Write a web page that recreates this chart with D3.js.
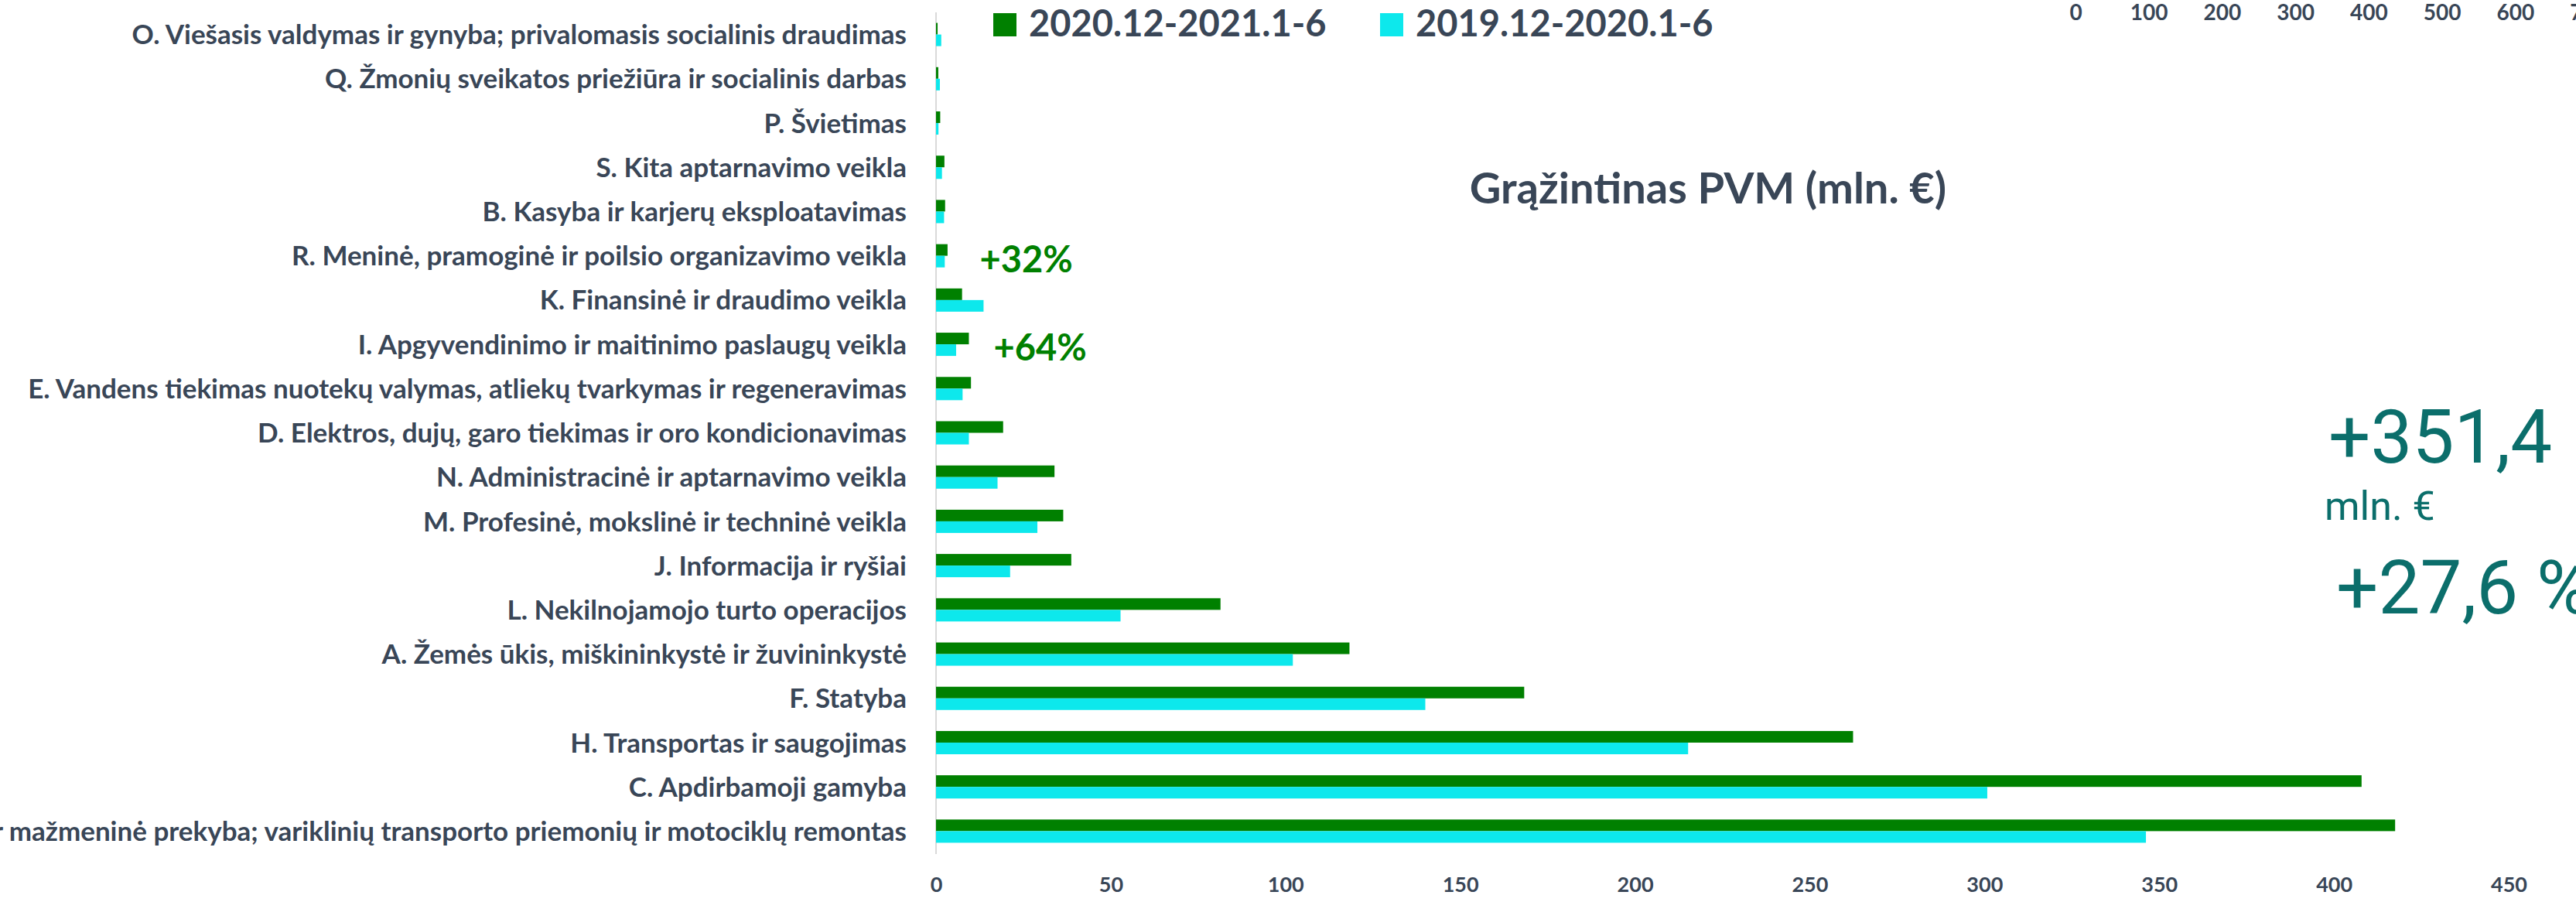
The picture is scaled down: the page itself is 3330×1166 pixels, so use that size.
<html>
<head>
<meta charset="utf-8">
<script src="https://d3js.org/d3.v7.min.js"></script>
<style>
body { margin: 0; background: #ffffff; }
text { font-family: Lato, "Open Sans", sans-serif; }
</style>
</head>
<body>
<svg width="3330" height="1166"></svg>
<script>

// categories, top to bottom
var categories = [
  "O. Viešasis valdymas ir gynyba; privalomasis socialinis draudimas",
  "Q. Žmonių sveikatos priežiūra ir socialinis darbas",
  "P. Švietimas",
  "S. Kita aptarnavimo veikla",
  "B. Kasyba ir karjerų eksploatavimas",
  "R. Meninė, pramoginė ir poilsio organizavimo veikla",
  "K. Finansinė ir draudimo veikla",
  "I. Apgyvendinimo ir maitinimo paslaugų veikla",
  "E. Vandens tiekimas nuotekų valymas, atliekų tvarkymas ir regeneravimas",
  "D. Elektros, dujų, garo tiekimas ir oro kondicionavimas",
  "N. Administracinė ir aptarnavimo veikla",
  "M. Profesinė, mokslinė ir techninė veikla",
  "J. Informacija ir ryšiai",
  "L. Nekilnojamojo turto operacijos",
  "A. Žemės ūkis, miškininkystė ir žuvininkystė",
  "F. Statyba",
  "H. Transportas ir saugojimas",
  "C. Apdirbamoji gamyba",
  "G. Didmeninė ir mažmeninė prekyba; variklinių transporto priemonių ir motociklų remontas"
];

var series = ["2020.12-2021.1-6", "2019.12-2020.1-6"];

// mln. EUR
var values2021 = [0.45, 0.65, 1.2, 2.4, 2.6, 3.3, 7.45, 9.4, 10.0, 19.2, 33.9, 36.4, 38.7, 81.4, 118.3, 168.3, 262.4, 407.9, 417.5];
var values2020 = [1.5, 1.1, 0.7, 1.7, 2.3, 2.5, 13.6, 5.75, 7.6, 9.4, 17.6, 29.0, 21.2, 52.8, 102.1, 140.0, 215.2, 300.8, 346.2];

var xTicks = [0, 50, 100, 150, 200, 250, 300, 350, 400, 450];
var topTicks = [0, 100, 200, 300, 400, 500, 600, 700];

var notes = [
  {cat: "R. Meninė, pramoginė ir poilsio organizavimo veikla", text: "+32%"},
  {cat: "I. Apgyvendinimo ir maitinimo paslaugų veikla", text: "+64%"}
];

var title = "Grąžintinas PVM (mln. €)";
var totalChange = "+351,4";
var totalUnit = "mln. €";
var totalPct = "+27,6 %";

var colors = ["#008000", "#0de8ec"];
var textColor = "#394657";
var teal = "#0b6e6b";

var svg = d3.select("svg");

var xs = d3.scaleLinear().domain([0, 450]).range([1210, 3243]);
var ys = d3.scaleBand().domain(categories).range([16, 1103])
  .paddingInner(0.475).paddingOuter(0.2375);
var ysub = d3.scaleBand().domain(series).range([0, ys.bandwidth()]);

// vertical axis line
svg.append("line")
  .attr("x1", xs(0)).attr("x2", xs(0))
  .attr("y1", 16).attr("y2", 1104)
  .style("stroke", "#d9d9d9").style("stroke-width", 2);

// bars
var rows = categories.map(function(c, i) {
  return {cat: c, vals: [values2021[i], values2020[i]]};
});

var g = svg.append("g");
rows.forEach(function(r) {
  g.selectAll(null).data(series).enter().append("rect")
    .attr("x", xs(0))
    .attr("y", function(s) { return ys(r.cat) + ysub(s); })
    .attr("width", function(s, j) { return xs(r.vals[j]) - xs(0); })
    .attr("height", ysub.bandwidth())
    .style("fill", function(s, j) { return colors[j]; });
});

// category labels
svg.append("g").selectAll("text").data(categories).enter().append("text")
  .attr("x", xs(0) - 38)
  .attr("y", function(d) { return ys(d) + ys.bandwidth() / 2; })
  .attr("dy", "0.36em")
  .style("text-anchor", "end")
  .style("font-size", "35px")
  .style("font-weight", "700")
  .style("fill", textColor)
  .text(function(d) { return d; });

// bottom axis
var xAxis = svg.append("g")
  .attr("transform", "translate(0,1104)")
  .call(d3.axisBottom(xs).tickValues(xTicks).tickSize(0).tickPadding(30));
xAxis.select(".domain").remove();
xAxis.selectAll("text")
  .style("font-family", "Lato, sans-serif")
  .style("font-size", "27px")
  .style("font-weight", "700")
  .style("fill", textColor);

// top axis (cut off on the right)
var xt = d3.scaleLinear().domain([0, 700]).range([2683, 3346]);
var topAxis = svg.append("g")
  .attr("transform", "translate(0,6)")
  .call(d3.axisBottom(xt).tickValues(topTicks).tickSize(0).tickPadding(0));
topAxis.select(".domain").remove();
topAxis.selectAll("text")
  .style("font-family", "Lato, sans-serif")
  .style("font-size", "28px")
  .style("font-weight", "700")
  .style("fill", textColor);

// legend
var legend = svg.append("g").selectAll("g").data(series).enter().append("g")
  .attr("transform", function(d, i) { return "translate(" + [1284, 1784][i] + ",0)"; });
legend.append("rect")
  .attr("x", 0).attr("y", 17).attr("width", 30).attr("height", 30)
  .style("fill", function(d, i) { return colors[i]; });
legend.append("text")
  .attr("x", 46).attr("y", 47)
  .style("font-size", "47px")
  .style("font-weight", "700")
  .style("fill", textColor)
  .text(function(d) { return d; });

// title
svg.append("text")
  .attr("x", 2208).attr("y", 263)
  .style("text-anchor", "middle")
  .style("font-size", "56px")
  .style("font-weight", "700")
  .style("fill", textColor)
  .text(title);

// percentage notes
svg.append("g").selectAll("text").data(notes).enter().append("text")
  .attr("x", function(d, i) { return xs([12.5, 16.5][i]); })
  .attr("y", function(d) { return ys(d.cat) + ys.bandwidth() / 2 + 21; })
  .style("font-size", "47px")
  .style("font-weight", "700")
  .style("fill", colors[0])
  .text(function(d) { return d.text; });

// totals
svg.append("text")
  .attr("x", 3010).attr("y", 598)
  .style("font-family", "Roboto, sans-serif")
  .style("font-size", "96px")
  .style("fill", teal)
  .text(totalChange);
svg.append("text")
  .attr("x", 3005).attr("y", 672)
  .style("font-family", "Roboto, sans-serif")
  .style("font-size", "52px")
  .style("fill", teal)
  .text(totalUnit);
svg.append("text")
  .attr("x", 3020).attr("y", 793)
  .style("font-family", "Roboto, sans-serif")
  .style("font-size", "96px")
  .style("fill", teal)
  .text(totalPct);

</script>
</body>
</html>
